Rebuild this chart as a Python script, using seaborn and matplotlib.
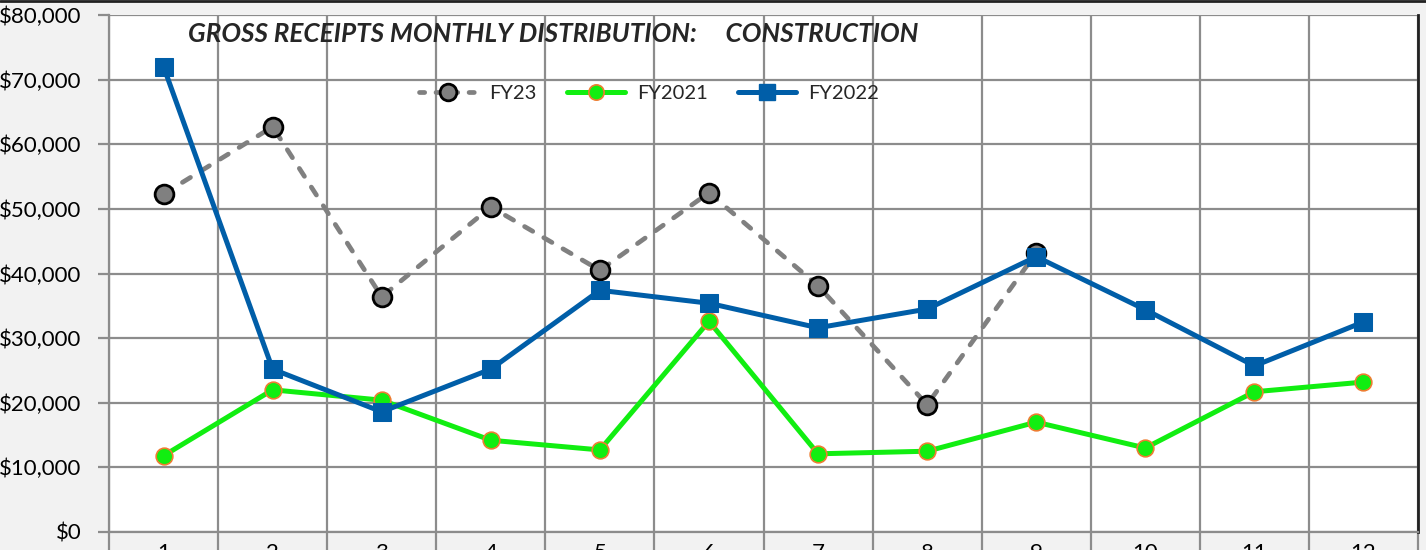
import matplotlib
matplotlib.use("Agg")
import matplotlib.pyplot as plt
import matplotlib.ticker as mticker
import seaborn as sns
from matplotlib.lines import Line2D

# month numbers and the three fiscal-year series
months = list(range(1, 13))
fy23 = [52300, 62700, 36400, 50300, 40500, 52500, 38100, 19700, 43200]
fy2021 = [11800, 22000, 20400, 14200, 12700, 32600, 12100, 12500, 17000, 13000, 21700, 23200]
fy2022 = [72000, 25200, 18600, 25200, 37400, 35400, 31600, 34500, 42600, 34400, 25700, 32500]
y_ticks = [0, 10000, 20000, 30000, 40000, 50000, 60000, 70000, 80000]

sns.set_theme(style="whitegrid")
plt.rcParams["font.family"] = ["Lato", "DejaVu Sans"]

GRID = "#8c8c8c"
GRAY = "#808080"
GREEN = "#11ee11"
ORANGE = "#ed7d31"
BLUE = "#005ea8"

fig = plt.figure(figsize=(14.26, 5.5), dpi=100, facecolor="#f2f2f2")
ax = fig.add_axes([109 / 1426, 1 - 532 / 550, (1418 - 109) / 1426, (532 - 15) / 550])
ax.set_facecolor("white")

sns.lineplot(x=months[:len(fy23)], y=fy23, ax=ax, color=GRAY, lw=3.4,
             linestyle=(0, (2.0, 2.7)), dash_capstyle="round",
             marker="o", markersize=13.5, markerfacecolor=GRAY,
             markeredgecolor="black", markeredgewidth=2, zorder=3)
sns.lineplot(x=months, y=fy2021, ax=ax, color=GREEN, lw=3.6,
             marker="o", markersize=12, markerfacecolor=GREEN,
             markeredgecolor=ORANGE, markeredgewidth=1.2, zorder=4)
sns.lineplot(x=months, y=fy2022, ax=ax, color=BLUE, lw=3.6,
             marker="s", markersize=12.5, markerfacecolor=BLUE,
             markeredgecolor=BLUE, zorder=5)

ax.set_xlim(0.5, 12.5)
ax.set_ylim(0, 80000)
ax.set_yticks(y_ticks)
ax.yaxis.set_major_formatter(mticker.StrMethodFormatter("${x:,.0f}"))
ax.set_xticks([m - 0.5 for m in months] + [12.5])
ax.set_xticklabels([])
ax.set_xticks(months, minor=True)
ax.set_xticklabels([str(m) for m in months], minor=True)

ax.grid(True, which="major", color=GRID, lw=1.6)
ax.grid(False, which="minor")
ax.tick_params(axis="y", which="major", length=8, width=1.6, color=GRID,
               labelsize=16, labelcolor="black", pad=12, left=True)
ax.tick_params(axis="x", which="major", length=20, width=1.6, color=GRID, bottom=True)
ax.tick_params(axis="x", which="minor", length=0, labelsize=16, labelcolor="black", pad=8)
for s in ["left", "bottom"]:
    ax.spines[s].set_color(GRID)
    ax.spines[s].set_linewidth(1.6)
ax.spines["top"].set_visible(False)
ax.spines["right"].set_color("#222222")
ax.spines["right"].set_linewidth(2)

handles = [
    Line2D([], [], color=GRAY, lw=3.4, linestyle=(0, (1.1, 2.4)), dash_capstyle="round",
           marker="o", markersize=12, markerfacecolor=GRAY, markeredgecolor="black",
           markeredgewidth=2),
    Line2D([], [], color=GREEN, lw=3.6, marker="o", markersize=11,
           markerfacecolor=GREEN, markeredgecolor=ORANGE, markeredgewidth=1.2),
    Line2D([], [], color=BLUE, lw=3.6, marker="s", markersize=11,
           markerfacecolor=BLUE, markeredgecolor=BLUE),
]
ax.legend(handles, ["FY23", "FY2021", "FY2022"], ncol=3, frameon=False,
          loc="center", bbox_to_anchor=(649 / 1426, 1 - 93 / 550),
          bbox_transform=fig.transFigure, fontsize=14.5, handlelength=2.9,
          columnspacing=1.5, handletextpad=0.6)

fig.text(188 / 1426, 1 - 34 / 550,
         "GROSS RECEIPTS MONTHLY DISTRIBUTION:     CONSTRUCTION",
         fontsize=18.8, fontweight="bold", fontstyle="italic", va="center", ha="left")

fig.add_artist(Line2D([0, 1], [1 - 1 / 550, 1 - 1 / 550], transform=fig.transFigure,
                      color="#222222", lw=2))

fig.savefig("out.png", dpi=100, facecolor=fig.get_facecolor())
